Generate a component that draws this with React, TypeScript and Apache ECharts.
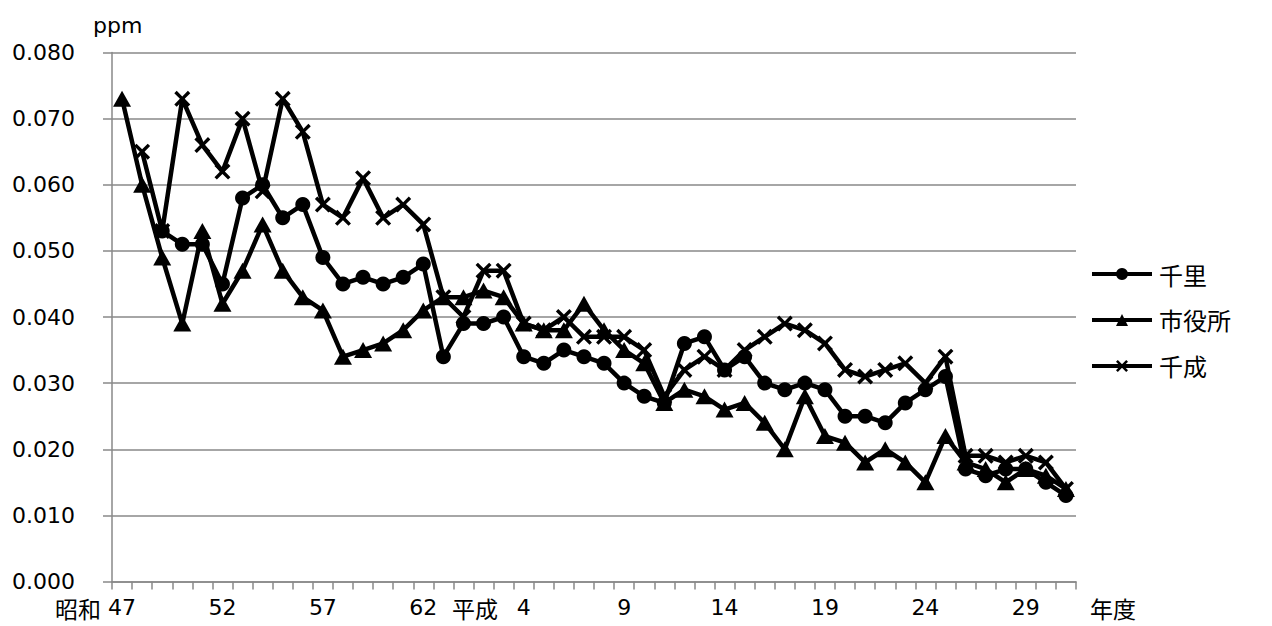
import React, { useEffect, useRef } from 'react';
import * as echarts from 'echarts';

// 年度 (昭和47 〜 昭和63, 平成元 〜 平成31)
const categories = [
  '47', '48', '49', '50', '51', '52', '53', '54', '55', '56', '57', '58', '59', '60', '61', '62', '63',
  '元', '2', '3', '4', '5', '6', '7', '8', '9', '10', '11', '12', '13', '14', '15', '16', '17', '18',
  '19', '20', '21', '22', '23', '24', '25', '26', '27', '28', '29', '30', '31',
];

// 千里
const senri = [
  null, null, 0.053, 0.051, 0.051, 0.045, 0.058, 0.060, 0.055, 0.057,
  0.049, 0.045, 0.046, 0.045, 0.046, 0.048, 0.034, 0.039, 0.039, 0.040,
  0.034, 0.033, 0.035, 0.034, 0.033, 0.030, 0.028, 0.027, 0.036, 0.037,
  0.032, 0.034, 0.030, 0.029, 0.030, 0.029, 0.025, 0.025, 0.024, 0.027,
  0.029, 0.031, 0.017, 0.016, 0.017, 0.017, 0.015, 0.013,
];

// 市役所
const shiyakusho = [
  0.073, 0.060, 0.049, 0.039, 0.053, 0.042, 0.047, 0.054, 0.047, 0.043,
  0.041, 0.034, 0.035, 0.036, 0.038, 0.041, 0.043, 0.043, 0.044, 0.043,
  0.039, 0.038, 0.038, 0.042, 0.038, 0.035, 0.033, 0.027, 0.029, 0.028,
  0.026, 0.027, 0.024, 0.020, 0.028, 0.022, 0.021, 0.018, 0.020, 0.018,
  0.015, 0.022, 0.018, 0.017, 0.015, 0.017, 0.016, 0.014,
];

// 千成
const sennari = [
  null, 0.065, 0.053, 0.073, 0.066, 0.062, 0.070, 0.059, 0.073, 0.068,
  0.057, 0.055, 0.061, 0.055, 0.057, 0.054, 0.043, 0.040, 0.047, 0.047,
  0.039, 0.038, 0.040, 0.037, 0.037, 0.037, 0.035, 0.028, 0.032, 0.034,
  0.032, 0.035, 0.037, 0.039, 0.038, 0.036, 0.032, 0.031, 0.032, 0.033,
  0.030, 0.034, 0.019, 0.019, 0.018, 0.019, 0.018, 0.014,
];

const seriesNames = ['千里', '市役所', '千成'];

const FONT = "'DejaVu Sans', 'Noto Sans CJK JP', sans-serif";
const CJK = "'Noto Sans CJK JP', 'DejaVu Sans', sans-serif";
const GRAY = '#898989';
const CROSS =
  'path://M0,15L15,0L50,35L85,0L100,15L65,50L100,85L85,100L50,65L15,100L0,85L35,50Z';

export default function App() {
  const ref = useRef<HTMLDivElement>(null);

  useEffect(() => {
    const chart = echarts.init(ref.current!, null, { renderer: 'svg' });
    const lineCommon = {
      type: 'line',
      showSymbol: true,
      showAllSymbol: true,
      lineStyle: { color: '#000', width: 4.5 },
      itemStyle: { color: '#000', borderColor: '#000', borderWidth: 0 },
      emphasis: { disabled: true },
    };
    const eraStyle = (text: string, align: string) => ({
      text,
      font: `23px ${CJK}`,
      lineHeight: 23,
      fill: '#000',
      align,
      verticalAlign: 'middle',
    });
    chart.setOption({
      animation: false,
      backgroundColor: '#fff',
      textStyle: { fontFamily: FONT },
      grid: { left: 112, right: 196, top: 52.5, bottom: 44.5, containLabel: false },
      legend: {
        orient: 'vertical',
        left: 1085,
        top: 257,
        itemWidth: 60,
        itemHeight: 15,
        itemGap: 22,
        lineStyle: { color: '#000', width: 4 },
        itemStyle: { color: '#000' },
        textStyle: { fontFamily: CJK, fontSize: 24, color: '#000', padding: [0, 0, 0, 2] },
        data: seriesNames,
      },
      xAxis: {
        type: 'category',
        data: categories,
        boundaryGap: true,
        axisLine: { show: true, lineStyle: { color: GRAY, width: 1.5 } },
        axisTick: { show: true, interval: 0, length: 8, lineStyle: { color: GRAY, width: 1.5 } },
        axisLabel: { interval: 4, margin: 15, fontSize: 22, color: '#000', fontFamily: FONT },
        splitLine: { show: false },
      },
      yAxis: {
        type: 'value',
        min: 0,
        max: 0.08,
        interval: 0.01,
        axisLine: { show: true, lineStyle: { color: GRAY, width: 1.5 } },
        axisTick: { show: true, length: 9, lineStyle: { color: GRAY, width: 1.5 } },
        axisLabel: {
          margin: 37,
          fontSize: 22,
          color: '#000',
          fontFamily: FONT,
          formatter: (v: number) => v.toFixed(3),
        },
        splitLine: { show: true, lineStyle: { color: GRAY, width: 1.5 } },
      },
      graphic: [
        { type: 'text', x: 93, y: 25, style: { text: 'ppm', font: `22px ${FONT}`, fill: '#000', verticalAlign: 'middle' } },
        { type: 'text', x: 101, y: 608, style: eraStyle('昭和', 'right') },
        { type: 'text', x: 452, y: 608, style: eraStyle('平成', 'left') },
        { type: 'text', x: 1090, y: 608, style: eraStyle('年度', 'left') },
      ],
      series: [
        { ...lineCommon, name: seriesNames[0], data: senri, symbol: 'circle', symbolSize: 15, z: 2 },
        { ...lineCommon, name: seriesNames[1], data: shiyakusho, symbol: 'triangle', symbolSize: [18, 16], z: 3 },
        { ...lineCommon, name: seriesNames[2], data: sennari, symbol: CROSS, symbolSize: 16, z: 4 },
      ],
    });
    return () => chart.dispose();
  }, []);

  return <div ref={ref} style={{ position: 'fixed', left: 0, top: 0, width: 1272, height: 626 }} />;
}
